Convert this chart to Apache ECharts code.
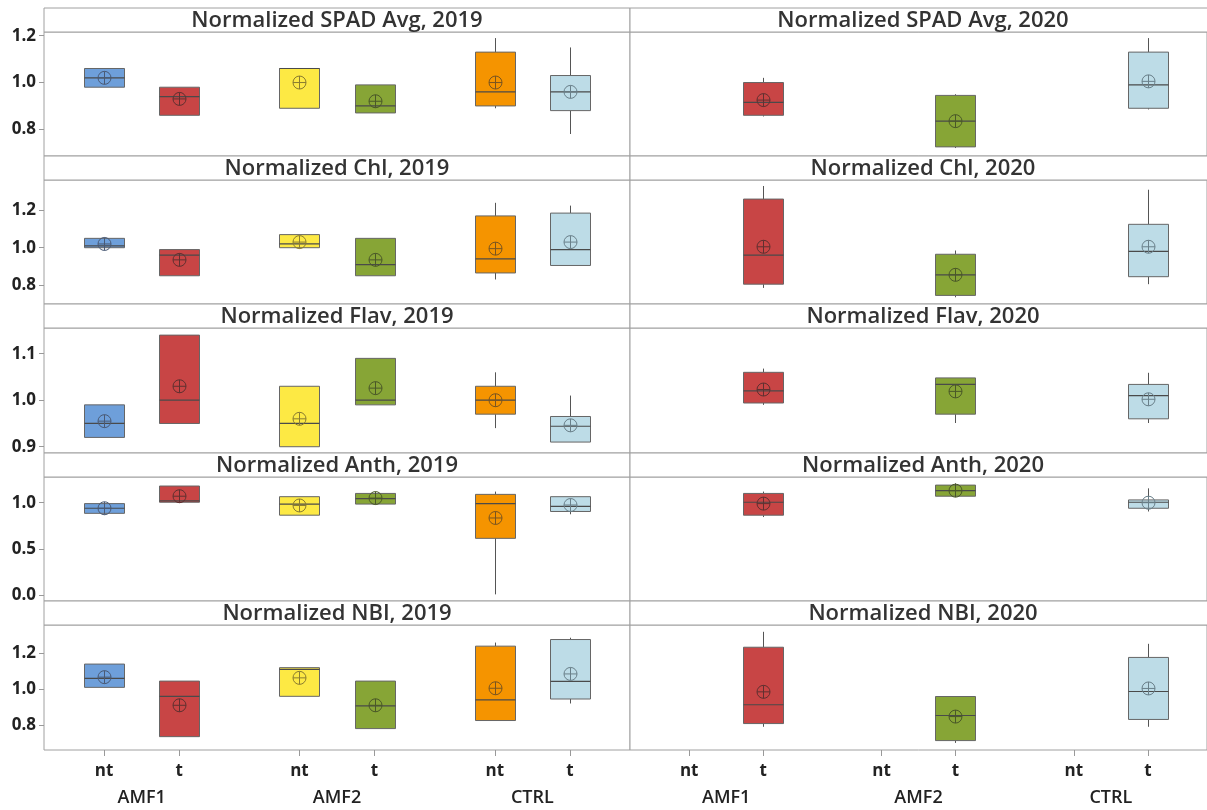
<!DOCTYPE html>
<html>
<head>
<meta charset="utf-8">
<script src="https://cdn.jsdelivr.net/npm/echarts@6/dist/echarts.min.js"></script>
<style>
html,body{margin:0;padding:0;background:#fff;}
#chart{width:1207px;height:810px;}
</style>
</head>
<body>
<div id="chart"></div>
<script>
// ---------- data ----------
const groups = ['AMF1', 'AMF2', 'CTRL'];
const treatments = ['nt', 't'];
const measures = ['Normalized SPAD Avg', 'Normalized Chl', 'Normalized Flav', 'Normalized Anth', 'Normalized NBI'];
const years = ['2019', '2020'];

// each box: [min, q1, median, q3, max, mean]; order AMF1 nt, AMF1 t, AMF2 nt, AMF2 t, CTRL nt, CTRL t
const spad2019 = [
  [0.98, 0.98, 1.02, 1.06, 1.06, 1.02],
  [0.86, 0.86, 0.94, 0.98, 0.98, 0.93],
  [0.89, 0.89, 1.06, 1.06, 1.06, 1.00],
  [0.87, 0.87, 0.90, 0.99, 0.99, 0.92],
  [0.89, 0.90, 0.96, 1.13, 1.19, 1.00],
  [0.78, 0.88, 0.96, 1.03, 1.15, 0.96]
];
const spad2020 = [
  null,
  [0.855, 0.86, 0.915, 1.00, 1.02, 0.925],
  null,
  [0.72, 0.725, 0.835, 0.945, 0.95, 0.835],
  null,
  [0.885, 0.89, 0.99, 1.13, 1.19, 1.005]
];
const chl2019 = [
  [1.00, 1.00, 1.01, 1.05, 1.05, 1.02],
  [0.85, 0.85, 0.96, 0.99, 0.99, 0.935],
  [1.00, 1.00, 1.02, 1.07, 1.07, 1.03],
  [0.85, 0.85, 0.91, 1.05, 1.05, 0.935],
  [0.83, 0.865, 0.94, 1.17, 1.24, 0.995],
  [0.905, 0.905, 0.99, 1.185, 1.225, 1.03]
];
const chl2020 = [
  null,
  [0.785, 0.805, 0.96, 1.26, 1.33, 1.005],
  null,
  [0.735, 0.745, 0.855, 0.965, 0.985, 0.855],
  null,
  [0.805, 0.845, 0.98, 1.125, 1.31, 1.005]
];
const flav2019 = [
  [0.92, 0.92, 0.95, 0.99, 0.99, 0.955],
  [0.95, 0.95, 1.00, 1.14, 1.14, 1.03],
  [0.90, 0.90, 0.95, 1.03, 1.03, 0.96],
  [0.99, 0.99, 1.00, 1.09, 1.09, 1.026],
  [0.94, 0.97, 1.00, 1.03, 1.06, 1.00],
  [0.91, 0.91, 0.944, 0.965, 1.01, 0.946]
];
const flav2020 = [
  null,
  [0.99, 0.994, 1.02, 1.06, 1.068, 1.023],
  null,
  [0.951, 0.97, 1.034, 1.048, 1.048, 1.019],
  null,
  [0.951, 0.96, 1.01, 1.034, 1.059, 1.002]
];
const anth2019 = [
  [0.885, 0.885, 0.94, 0.99, 0.99, 0.94],
  [1.005, 1.005, 1.02, 1.18, 1.18, 1.07],
  [0.865, 0.865, 0.985, 1.065, 1.065, 0.97],
  [0.985, 0.985, 1.045, 1.10, 1.10, 1.05],
  [0.01, 0.615, 0.99, 1.09, 1.12, 0.835],
  [0.875, 0.905, 0.96, 1.065, 1.065, 0.975]
];
const anth2020 = [
  null,
  [0.845, 0.865, 1.005, 1.10, 1.12, 0.99],
  null,
  [1.07, 1.07, 1.13, 1.19, 1.21, 1.13],
  null,
  [0.905, 0.94, 1.005, 1.03, 1.155, 1.00]
];
const nbi2019 = [
  [1.01, 1.01, 1.06, 1.14, 1.14, 1.067],
  [0.735, 0.735, 0.96, 1.045, 1.045, 0.91],
  [0.96, 0.96, 1.11, 1.12, 1.12, 1.063],
  [0.78, 0.78, 0.907, 1.045, 1.045, 0.91],
  [0.825, 0.825, 0.94, 1.24, 1.26, 1.005],
  [0.92, 0.945, 1.043, 1.277, 1.287, 1.085]
];
const nbi2020 = [
  null,
  [0.79, 0.808, 0.913, 1.234, 1.32, 0.985],
  null,
  [0.70, 0.713, 0.853, 0.959, 0.959, 0.847],
  null,
  [0.79, 0.831, 0.987, 1.177, 1.253, 1.004]
];

const spadTicks = [0.8, 1.0, 1.2];
const chlTicks = [0.8, 1.0, 1.2];
const flavTicks = [0.9, 1.0, 1.1];
const anthTicks = [0.0, 0.5, 1.0];
const nbiTicks = [0.8, 1.0, 1.2];

// ---------- styling / layout ----------
const boxColors = ['#6e9fda', '#c84545', '#fde944', '#87a536', '#f59400', '#bddce7'];
const markColors = ['#4a5a75', '#603030', '#8a7c30', '#4a5828', '#7a5520', '#6a808a'];
const FONT = 'Open Sans';
const rowData = [[spad2019, spad2020], [chl2019, chl2020], [flav2019, flav2020], [anth2019, anth2020], [nbi2019, nbi2020]];
const rowTicks = [spadTicks, chlTicks, flavTicks, anthTicks, nbiTicks];
const rowRange = [[0.686, 1.216], [0.699, 1.362], [0.8865, 1.1553], [-0.0616, 1.2775], [0.6605, 1.358]];
const panelTop = [8, 156, 304, 453, 601];
const panelBottom = [156, 304, 453, 601, 750];
const titleH = 24;
const colLeft = [44, 630];
const colWidth = 586;

// category scaffold: 79 points, boundaryGap false
const nCats = 79;
const catPos = [8, 18, 34, 44, 60, 70];
const groupPos = [13, 39, 65];
const subCats = [], grpCats = [];
for (let i = 0; i < nCats; i++) { subCats.push(''); grpCats.push(''); }
catPos.forEach((p, i) => { subCats[p] = treatments[i % 2]; });
groupPos.forEach((p, i) => { grpCats[p] = groups[i]; });

const grids = [], xAxes = [], yAxes = [], series = [], graphics = [];

function renderItem(params, api) {
  const x = api.value(0);
  const c = i => api.coord([x, api.value(i)]);
  const pMin = c(1), pQ1 = c(2), pMed = c(3), pQ3 = c(4), pMax = c(5), pMean = c(6);
  const ci = api.value(7);
  const cx = Math.round(pMin[0]) + 0.5;
  const hw = 20, r = 6.5;
  const mk = markColors[ci];
  return {
    type: 'group',
    children: [
      {type: 'line', shape: {x1: cx, y1: pMax[1], x2: cx, y2: pQ3[1]}, style: {stroke: '#555', lineWidth: 1}},
      {type: 'line', shape: {x1: cx, y1: pQ1[1], x2: cx, y2: pMin[1]}, style: {stroke: '#555', lineWidth: 1}},
      {type: 'rect', shape: {x: cx - hw, y: pQ3[1], width: 2 * hw, height: Math.max(pQ1[1] - pQ3[1], 1)},
        style: {fill: boxColors[ci], stroke: '#666', lineWidth: 1}},
      {type: 'line', shape: {x1: cx - hw, y1: pMed[1], x2: cx + hw, y2: pMed[1]}, style: {stroke: '#4a4a4a', lineWidth: 1.2}},
      {type: 'circle', shape: {cx: cx, cy: pMean[1], r: r}, style: {fill: null, stroke: mk, lineWidth: 1}},
      {type: 'line', shape: {x1: cx - r, y1: pMean[1], x2: cx + r, y2: pMean[1]}, style: {stroke: mk, lineWidth: 1}},
      {type: 'line', shape: {x1: cx, y1: pMean[1] - r, x2: cx, y2: pMean[1] + r}, style: {stroke: mk, lineWidth: 1}}
    ]
  };
}

let idx = 0;
for (let r = 0; r < 5; r++) {
  for (let col = 0; col < 2; col++) {
    const top = panelTop[r] + titleH;
    const bottom = panelBottom[r];
    grids.push({left: colLeft[col], top: top, width: colWidth, height: bottom - top,
      show: true, borderColor: '#a0a0a0', borderWidth: 1, backgroundColor: '#fff', containLabel: false});
    const isBottom = r === 4;
    xAxes.push({
      type: 'category', gridIndex: idx, data: subCats, boundaryGap: false,
      axisLine: {show: false},
      axisTick: {show: isBottom, length: 6, lineStyle: {color: '#999'}, interval: (i) => subCats[i] !== ''},
      axisLabel: {show: isBottom, interval: (i) => subCats[i] !== '', margin: 13,
        fontFamily: FONT, fontSize: 17, fontWeight: 'bold', color: '#222'},
      splitLine: {show: false}
    });
    const gxi = xAxes.length;
    xAxes.push({
      type: 'category', gridIndex: idx, data: grpCats, boundaryGap: false, position: 'bottom',
      axisLine: {show: false}, axisTick: {show: false},
      axisLabel: {show: isBottom, interval: (i) => grpCats[i] !== '', margin: 39,
        fontFamily: FONT, fontSize: 18, fontWeight: 600, color: '#222'},
      splitLine: {show: false}
    });
    const ticks = rowTicks[r];
    yAxes.push({
      type: 'value', gridIndex: idx, min: rowRange[r][0], max: rowRange[r][1],
      axisLine: {show: false},
      axisTick: {show: col === 0, length: 5, lineStyle: {color: '#999'}, customValues: ticks},
      axisLabel: {show: col === 0, customValues: ticks, formatter: v => Number(v).toFixed(1), margin: 8,
        fontFamily: FONT, fontSize: 17, fontWeight: 'bold', color: '#222'},
      splitLine: {show: false}
    });
    const boxes = rowData[r][col];
    const data = [];
    boxes.forEach((b, i) => { if (b) data.push([catPos[i]].concat(b, [i])); });
    series.push({
      type: 'custom', xAxisIndex: gxi - 1, yAxisIndex: idx, renderItem: renderItem,
      encode: {x: 0, y: [1, 2, 3, 4, 5, 6]}, data: data, clip: false, silent: true
    });
    graphics.push({
      type: 'rect', shape: {x: colLeft[col], y: panelTop[r], width: colWidth, height: titleH},
      style: {fill: '#fff', stroke: '#a0a0a0', lineWidth: 1}, z: 10
    });
    graphics.push({
      type: 'text', x: colLeft[col] + colWidth / 2, y: panelTop[r] + titleH / 2 + 1,
      style: {text: measures[r] + ', ' + years[col], textAlign: 'center', textVerticalAlign: 'middle',
        fontFamily: FONT, fontSize: 22, fontWeight: 600, fill: '#333'}, z: 11
    });
    idx++;
  }
}

const chart = echarts.init(document.getElementById('chart'), null, {renderer: 'canvas'});
chart.setOption({
  animation: false,
  backgroundColor: '#fff',
  grid: grids,
  xAxis: xAxes,
  yAxis: yAxes,
  series: series,
  graphic: graphics
});
</script>
</body>
</html>
